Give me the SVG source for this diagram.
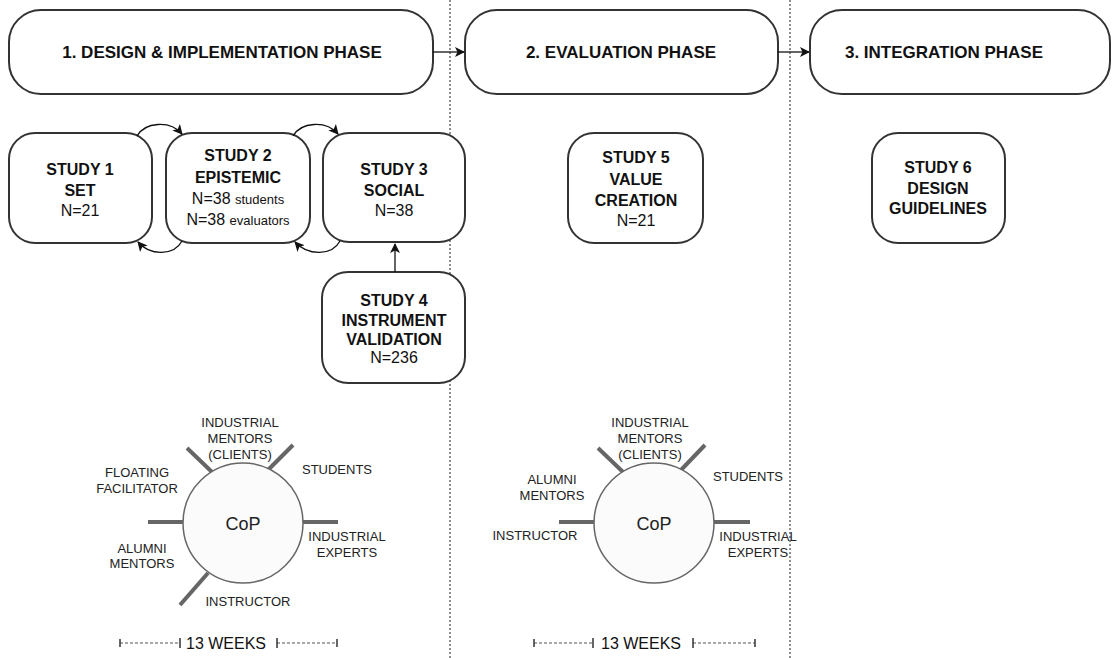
<svg xmlns="http://www.w3.org/2000/svg" width="1120" height="658" viewBox="0 0 1120 658">
  <defs>
    <marker id="arrow" viewBox="0 0 10 10" refX="9" refY="5" markerWidth="10" markerHeight="10" markerUnits="userSpaceOnUse" orient="auto">
      <path d="M0,0 L10,5 L0,10 L2.5,5 Z" fill="#111"/>
    </marker>
    <style>
      .phase { fill: #fff; stroke: #333; stroke-width: 2; }
      .study { fill: #fff; stroke: #333; stroke-width: 2; }
      .ptitle { font-family: "Liberation Sans", Arial, sans-serif; font-weight: bold; font-size: 17px; fill: #111; text-anchor: middle; }
      .sb { font-family: "Liberation Sans", Arial, sans-serif; font-weight: bold; font-size: 16px; fill: #111; text-anchor: middle; }
      .sn { font-family: "Liberation Sans", Arial, sans-serif; font-size: 16px; fill: #111; text-anchor: middle; }
      .small { font-size: 13px; }
      .conn { fill: none; stroke: #111; stroke-width: 1.3; }
      .divider { stroke: #444; stroke-width: 1.2; stroke-dasharray: 2 2; }
      .cop { fill: #fbfbfb; stroke: #666; stroke-width: 1.5; }
      .spoke { stroke: #666; stroke-width: 4; }
      .role { font-family: "Liberation Sans", Arial, sans-serif; font-size: 13px; fill: #222; text-anchor: middle; }
      .coptext { font-family: "Liberation Sans", Arial, sans-serif; font-size: 18px; fill: #222; text-anchor: middle; }
      .weeks { font-family: "Liberation Sans", Arial, sans-serif; font-size: 16px; fill: #111; text-anchor: middle; }
      .span { stroke: #555; stroke-width: 1.2; stroke-dasharray: 3 2; }
      .tick { stroke: #333; stroke-width: 1.5; }
    </style>
  </defs>

  <!-- phase dividers -->
  <line class="divider" x1="450" y1="0" x2="450" y2="658"/>
  <line class="divider" x1="790" y1="0" x2="790" y2="658"/>

  <!-- phase headers -->
  <g id="phase1">
    <rect class="phase" x="9" y="10" width="424" height="84" rx="32"/>
    <text class="ptitle" x="222" y="58">1. DESIGN &amp; IMPLEMENTATION PHASE</text>
  </g>
  <g id="phase2">
    <rect class="phase" x="465" y="10" width="313" height="84" rx="32"/>
    <text class="ptitle" x="621" y="58">2. EVALUATION PHASE</text>
  </g>
  <g id="phase3">
    <rect class="phase" x="810" y="10" width="300" height="84" rx="32"/>
    <text class="ptitle" x="944" y="58">3. INTEGRATION PHASE</text>
  </g>

  <!-- studies -->
  <g id="study1">
    <rect class="study" x="9" y="133" width="143" height="110" rx="26"/>
    <text class="sb" x="80" y="175">STUDY 1</text>
    <text class="sb" x="80" y="196">SET</text>
    <text class="sn" x="80" y="216">N=21</text>
  </g>
  <g id="study2">
    <rect class="study" x="166" y="133" width="144" height="110" rx="26"/>
    <text class="sb" x="238" y="161">STUDY 2</text>
    <text class="sb" x="238" y="183">EPISTEMIC</text>
    <text class="sn" x="238" y="204">N=38 <tspan class="small">students</tspan></text>
    <text class="sn" x="238" y="225">N=38 <tspan class="small">evaluators</tspan></text>
  </g>
  <g id="study3">
    <rect class="study" x="323" y="133" width="142" height="109" rx="26"/>
    <text class="sb" x="394" y="175">STUDY 3</text>
    <text class="sb" x="394" y="196">SOCIAL</text>
    <text class="sn" x="394" y="216">N=38</text>
  </g>
  <g id="study4">
    <rect class="study" x="322" y="272" width="143" height="111" rx="26">
    </rect>
    <text class="sb" x="394" y="306">STUDY 4</text>
    <text class="sb" x="394" y="326">INSTRUMENT</text>
    <text class="sb" x="394" y="345">VALIDATION</text>
    <text class="sn" x="394" y="363">N=236</text>
  </g>
  <g id="study5">
    <rect class="study" x="568" y="133" width="135" height="110" rx="26"/>
    <text class="sb" x="636" y="163">STUDY 5</text>
    <text class="sb" x="636" y="185">VALUE</text>
    <text class="sb" x="636" y="206">CREATION</text>
    <text class="sn" x="636" y="226">N=21</text>
  </g>
  <g id="study6">
    <rect class="study" x="872" y="133" width="133" height="110" rx="26"/>
    <text class="sb" x="938" y="173">STUDY 6</text>
    <text class="sb" x="938" y="194">DESIGN</text>
    <text class="sb" x="938" y="214">GUIDELINES</text>
  </g>

  <!-- connectors -->
  <g id="connectors">
    <line class="conn" x1="433" y1="52" x2="464" y2="52" marker-end="url(#arrow)"/>
    <line class="conn" x1="778" y1="52" x2="809" y2="52" marker-end="url(#arrow)"/>
    <path class="conn" d="M137,136 C145,122 170,120 182,134" marker-end="url(#arrow)"/>
    <path class="conn" d="M182,241 C174,256 150,256 138,242" marker-end="url(#arrow)"/>
    <path class="conn" d="M293,136 C301,122 326,120 338,134" marker-end="url(#arrow)"/>
    <path class="conn" d="M340,241 C332,256 308,256 295,242" marker-end="url(#arrow)"/>
    <line class="conn" x1="395" y1="272" x2="395" y2="244" marker-end="url(#arrow)"/>
  </g>

  <!-- community of practice, phase 1 -->
  <g id="cop1">
    <line class="spoke" x1="148" y1="522" x2="183" y2="522"/>
    <line class="spoke" x1="303" y1="522" x2="338" y2="522"/>
    <line class="spoke" x1="187" y1="448" x2="212" y2="472"/>
    <line class="spoke" x1="293" y1="445" x2="268" y2="470"/>
    <line class="spoke" x1="208" y1="573" x2="180" y2="605"/>
    <circle class="cop" cx="243" cy="523" r="60"/>
    <text class="coptext" x="243" y="530">CoP</text>
    <text class="role" x="240" y="427">INDUSTRIAL</text>
    <text class="role" x="240" y="443">MENTORS</text>
    <text class="role" x="240" y="459">(CLIENTS)</text>
    <text class="role" x="337" y="474">STUDENTS</text>
    <text class="role" x="137" y="477">FLOATING</text>
    <text class="role" x="137" y="493">FACILITATOR</text>
    <text class="role" x="347" y="541">INDUSTRIAL</text>
    <text class="role" x="347" y="557">EXPERTS</text>
    <text class="role" x="142" y="553">ALUMNI</text>
    <text class="role" x="142" y="568">MENTORS</text>
    <text class="role" x="248" y="606">INSTRUCTOR</text>
  </g>

  <!-- community of practice, phase 2 -->
  <g id="cop2">
    <line class="spoke" x1="559" y1="522" x2="594" y2="522"/>
    <line class="spoke" x1="714" y1="522" x2="750" y2="522"/>
    <line class="spoke" x1="598" y1="448" x2="623" y2="472"/>
    <line class="spoke" x1="705" y1="445" x2="681" y2="470"/>
    <circle class="cop" cx="654" cy="523" r="60"/>
    <text class="coptext" x="654" y="530">CoP</text>
    <text class="role" x="650" y="427">INDUSTRIAL</text>
    <text class="role" x="650" y="443">MENTORS</text>
    <text class="role" x="650" y="459">(CLIENTS)</text>
    <text class="role" x="748" y="481">STUDENTS</text>
    <text class="role" x="552" y="484">ALUMNI</text>
    <text class="role" x="552" y="500">MENTORS</text>
    <text class="role" x="535" y="540">INSTRUCTOR</text>
    <text class="role" x="758" y="541">INDUSTRIAL</text>
    <text class="role" x="758" y="557">EXPERTS</text>
  </g>

  <!-- duration bars -->
  <g id="weeks1">
    <line class="span" x1="120" y1="643" x2="180" y2="643"/>
    <line class="tick" x1="120" y1="639" x2="120" y2="647"/>
    <line class="tick" x1="180" y1="638" x2="180" y2="648"/>
    <text class="weeks" x="226" y="649">13 WEEKS</text>
    <line class="span" x1="277" y1="643" x2="337" y2="643"/>
    <line class="tick" x1="277" y1="638" x2="277" y2="648"/>
    <line class="tick" x1="337" y1="639" x2="337" y2="647"/>
  </g>
  <g id="weeks2">
    <line class="span" x1="534" y1="643" x2="593" y2="643"/>
    <line class="tick" x1="534" y1="639" x2="534" y2="647"/>
    <line class="tick" x1="593" y1="638" x2="593" y2="648"/>
    <text class="weeks" x="641" y="649">13 WEEKS</text>
    <line class="span" x1="693" y1="643" x2="755" y2="643"/>
    <line class="tick" x1="693" y1="638" x2="693" y2="648"/>
    <line class="tick" x1="755" y1="639" x2="755" y2="647"/>
  </g>
</svg>
